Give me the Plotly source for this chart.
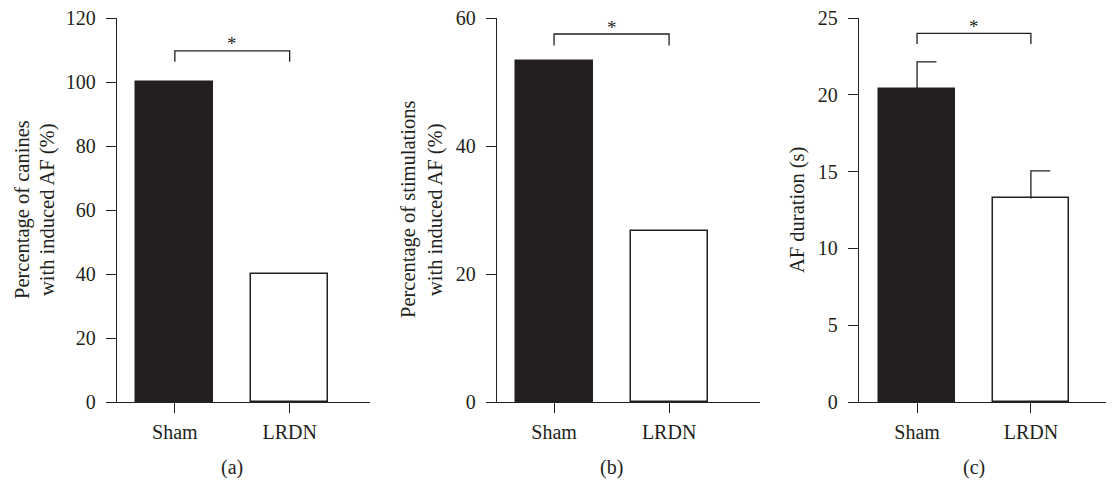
import plotly.graph_objects as go

# page has an 8px body margin: the figure is placed at (8, 8) in the window
OFF = 8
W, H = 1114 - OFF, 485 - OFF
FONT = "Liberation Serif"
INK = "#231f20"

categories = ["Sham", "LRDN"]
vals_a = [100, 40]
vals_b = [53.3, 26.7]
vals_c = [20.35, 13.25]
err_c = [1.8, 1.8]

yticks_a = [0, 20, 40, 60, 80, 100, 120]
yticks_b = [0, 20, 40, 60]
yticks_c = [0, 5, 10, 15, 20, 25]

titles = [["Percentage of canines", "with induced AF (%)"],
          ["Percentage of stimulations", "with induced AF (%)"],
          ["AF duration (s)"]]
panel_labels = ["(a)", "(b)", "(c)"]

# significance bracket: (bar level, end drop level)
bracket_a = [109.7, 106.3]
bracket_b = [57.5, 55.7]
bracket_c = [24.0, 23.3]

fills = [INK, "white"]
BW = 0.67

# layout geometry (reference window pixels)
y_top_px, y_bot_px = 18, 402
panels = [
    dict(x0=117, x1=370, rng=[-0.504, 1.70], vals=vals_a, ticks=yticks_a, br=bracket_a, tx=[22, 47]),
    dict(x0=497, x1=760, rng=[-0.496, 1.79], vals=vals_b, ticks=yticks_b, br=bracket_b, tx=[408, 435]),
    dict(x0=859, x1=1114, rng=[-0.51, 1.73], vals=vals_c, ticks=yticks_c, br=bracket_c, tx=[797]),
]


def px(v):
    return (v - OFF) / W


def py(v):
    return (H - (v - OFF)) / H


fig = go.Figure()
ydom = [py(y_bot_px), py(y_top_px)]
line_style = dict(color=INK, width=1.3)

for k, p in enumerate(panels):
    sfx = "" if k == 0 else str(k + 1)
    xa, ya = "x" + sfx, "y" + sfx
    fig.add_trace(go.Bar(x=[0, 1], y=p["vals"], width=BW,
                         marker=dict(color=fills, line=dict(color=INK, width=1.5)),
                         xaxis=xa, yaxis=ya, hoverinfo="skip"))
    if k == 2:
        for i, (v, e) in enumerate(zip(vals_c, err_c)):
            fig.add_trace(go.Scatter(x=[i, i, i + 0.17], y=[v, v + e, v + e], mode="lines",
                                     line=line_style, xaxis=xa, yaxis=ya, hoverinfo="skip"))
    b = p["br"]
    fig.add_trace(go.Scatter(x=[0, 0, 1, 1], y=[b[1], b[0], b[0], b[1]], mode="lines",
                             line=line_style, xaxis=xa, yaxis=ya, hoverinfo="skip", cliponaxis=False))
    fig.add_annotation(x=0.5, y=b[0], xref=xa, yref=ya, text="*", showarrow=False,
                       yanchor="middle", yshift=7,
                       font=dict(family=FONT, size=19, color=INK))
    axis_common = dict(showline=True, linecolor=INK, linewidth=1.3, ticks="outside",
                       ticklen=10, tickwidth=1.3, tickcolor=INK, showgrid=False, zeroline=False,
                       automargin=False, ticklabeloverflow="allow",
                       tickfont=dict(family=FONT, size=20, color=INK))
    fig.layout["xaxis" + sfx] = dict(domain=[px(p["x0"]), px(p["x1"])], range=p["rng"],
                                     tickvals=[0, 1], ticktext=categories, anchor=ya,
                                     ticklabelstandoff=2, **axis_common)
    fig.layout["yaxis" + sfx] = dict(domain=ydom, range=[0, p["ticks"][-1]],
                                     tickvals=p["ticks"], anchor=xa, ticklabelstandoff=6,
                                     **axis_common)
    for line_text, tx in zip(titles[k], p["tx"]):
        fig.add_annotation(x=px(tx), y=py((y_top_px + y_bot_px) / 2), xref="paper", yref="paper",
                           xanchor="center", yanchor="middle", borderpad=0,
                           text=line_text, textangle=-90, showarrow=False,
                           font=dict(family=FONT, size=20.5, color=INK))
    fig.add_annotation(x=0.5, y=py(467), xref=xa, yref="paper", text=panel_labels[k],
                       xanchor="center", yanchor="middle",
                       showarrow=False, font=dict(family=FONT, size=20, color=INK))

fig.update_layout(width=W, height=H, margin=dict(l=0, r=0, t=0, b=0),
                  paper_bgcolor="white", plot_bgcolor="white", showlegend=False, bargap=0)
fig.write_html("out.html")
